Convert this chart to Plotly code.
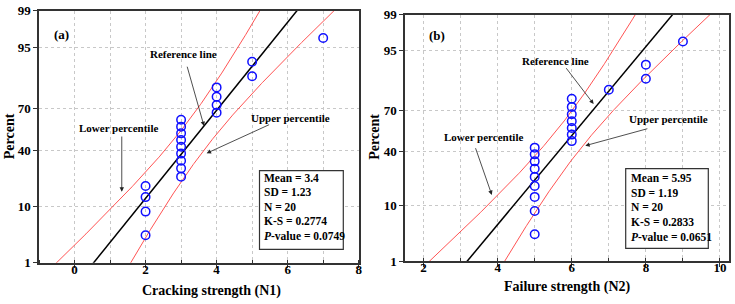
import numpy as np
import plotly.graph_objects as go
from statistics import NormalDist

# ---------------- data ----------------
percent = [3.43, 8.33, 13.24, 18.14, 23.04, 27.94, 32.84, 37.75, 42.65, 47.55,
           52.45, 57.35, 62.25, 67.16, 72.06, 76.96, 81.86, 86.76, 91.67, 96.57]
cracking_n1 = [2, 2, 2, 2, 3, 3, 3, 3, 3, 3, 3, 3, 3, 4, 4, 4, 4, 5, 5, 7]
failure_n2 = [5, 5, 5, 5, 5, 5, 5, 5, 5, 6, 6, 6, 6, 6, 6, 6, 7, 8, 8, 9]
stats_a = {"mean": 3.4, "sd": 1.23, "n": 20, "ks": "0.2774", "p": "0.0749"}
stats_b = {"mean": 5.95, "sd": 1.19, "n": 20, "ks": "0.2833", "p": "0.0651"}
ytick_pct = [1, 10, 40, 70, 95, 99]

nd = NormalDist()
z = lambda p: nd.inv_cdf(p / 100.0)

W, H = 735, 304
def PX(x): return x / W
def PY(y): return 1 - y / H

FONT = "Liberation Serif"
fig = go.Figure()

zg = np.linspace(-2.9, 2.9, 300)

def add_panel(xv, st, xa, ya):
    m, s, n = st["mean"], st["sd"], st["n"]
    ref = m + s * zg
    half = 1.96 * s * np.sqrt(1.0 / n + zg ** 2 / (2.0 * n))
    for band in (ref - half, ref + half):
        fig.add_trace(go.Scatter(x=band, y=zg, mode="lines", line=dict(color="#ff4040", width=0.9),
                                 xaxis=xa, yaxis=ya, showlegend=False, hoverinfo="skip"))
    fig.add_trace(go.Scatter(x=ref, y=zg, mode="lines", line=dict(color="black", width=1.5),
                             xaxis=xa, yaxis=ya, showlegend=False, hoverinfo="skip"))
    fig.add_trace(go.Scatter(x=xv, y=[z(p) for p in percent], mode="markers",
                             marker=dict(symbol="circle-open", size=8.5, color="#1010ff",
                                         line=dict(width=1.5, color="#1010ff")),
                             xaxis=xa, yaxis=ya, showlegend=False))

add_panel(cracking_n1, stats_a, "x", "y")
add_panel(failure_n2, stats_b, "x2", "y2")

axis_common = dict(showline=True, mirror=True, linecolor="#333", linewidth=1.5,
                   showgrid=True, gridcolor="#c8c8c8", griddash="dot", gridwidth=1,
                   zeroline=False, ticks="outside", ticklen=4, tickwidth=1.2, tickcolor="#333",
                   automargin=False,
                   tickfont=dict(family=FONT, size=13, color="black", weight="bold"))
xminor = dict(dtick=1, ticks="inside", ticklen=3, tickwidth=1.2, tickcolor="#333",
              showgrid=True, gridcolor="#c8c8c8", griddash="dot", gridwidth=1)

yt = [z(p) for p in ytick_pct]
ylo, yhi = z(1), z(99)

fig.update_layout(
    width=W, height=H, margin=dict(l=0, r=0, t=0, b=0, autoexpand=False),
    paper_bgcolor="white", plot_bgcolor="white",
    xaxis=dict(domain=[PX(39), PX(358.7)], range=[-1, 8], tick0=0, dtick=2, minor=xminor,
               anchor="y", ticklabelstandoff=-10, **axis_common),
    yaxis=dict(domain=[PY(262.7), PY(10.7)], range=[ylo, yhi], tickmode="array",
               tickvals=yt, ticktext=[str(v) for v in ytick_pct], anchor="x", **axis_common),
    xaxis2=dict(domain=[PX(405), PX(728.7)], range=[1.5, 10.235], tick0=0, dtick=2, minor=xminor,
                anchor="y2", ticklabelstandoff=-10, **axis_common),
    yaxis2=dict(domain=[PY(261), PY(14.7)], range=[ylo, yhi], tickmode="array",
                tickvals=yt, ticktext=[str(v) for v in ytick_pct], anchor="x2", **axis_common),
)

ann = []
def txt(x, y, t, size=11, xanchor="center", yanchor="middle", angle=0, ref=("paper", "paper")):
    ann.append(dict(x=x, y=y, xref=ref[0], yref=ref[1], text=t, showarrow=False,
                    xanchor=xanchor, yanchor=yanchor, textangle=angle,
                    font=dict(family=FONT, size=size, color="black", weight="bold")))

def arrow(xr, yr, tail, tip):
    ann.append(dict(x=tip[0], y=tip[1], ax=tail[0], ay=tail[1], xref=xr, yref=yr,
                    axref=xr, ayref=yr, text="", showarrow=True, arrowhead=2,
                    arrowsize=1.1, arrowwidth=0.8, arrowcolor="#222"))

# axis titles
txt(PX(211), PY(290.5), "Cracking strength (N1)", size=14)
txt(PX(567.5), PY(286.7), "Failure strength (N2)", size=14)
txt(PX(9.5), PY(136.7), "Percent", size=14, angle=-90)
txt(PX(375), PY(136.7), "Percent", size=14, angle=-90)

# panel (a) labels
txt(-0.36, 1.89, "(a)", size=13, ref=("x", "y"))
txt(3.06, 1.52, "Reference line", size=11, ref=("x", "y"))
arrow("x", "y", (3.16, 1.32), (3.645, 0.198))
txt(6.07, 0.351, "Upper percentile", size=11, ref=("x", "y"))
arrow("x", "y", (5.52, 0.234), (3.72, -0.306))
txt(1.23, 0.166, "Lower percentile", size=11, ref=("x", "y"))
arrow("x", "y", (1.33, 0.031), (1.33, -1.015))

# panel (b) labels
txt(2.36, 1.93, "(b)", size=13, ref=("x2", "y2"))
txt(5.57, 1.457, "Reference line", size=11, ref=("x2", "y2"))
arrow("x2", "y2", (5.82, 1.344), (6.59, 0.639))
txt(8.62, 0.356, "Upper percentile", size=11, ref=("x2", "y2"))
arrow("x2", "y2", (8.08, 0.180), (6.365, -0.148))
txt(3.62, 0.022, "Lower percentile", size=11, ref=("x2", "y2"))
arrow("x2", "y2", (3.39, -0.167), (3.843, -1.079))

# stats boxes
shapes = []
def stats_box(st, box, tx, ys):
    shapes.append(dict(type="rect", xref="paper", yref="paper",
                       x0=PX(box[0]), x1=PX(box[2]), y0=PY(box[3]), y1=PY(box[1]),
                       line=dict(color="#333", width=1.2), fillcolor="white"))
    lines = [f"Mean = {st['mean']}", f"SD = {st['sd']}", f"N = {st['n']}",
             f"K-S = {st['ks']}", f"<i>P</i>-value = {st['p']}"]
    for t, y in zip(lines, ys):
        txt(PX(tx), PY(y), t, size=11.5, xanchor="left")

stats_box(stats_a, (259.5, 170.7, 343.3, 249.3), 261.5, [177.7, 192.3, 206.7, 221, 236])
stats_box(stats_b, (625.7, 168.7, 708.3, 248.3), 629, [177.7, 192.7, 207.3, 222.3, 237.3])

fig.update_layout(annotations=ann, shapes=shapes)
fig.write_html("out.html", config={"displayModeBar": False},
               post_script="document.body.style.margin='0px';")
